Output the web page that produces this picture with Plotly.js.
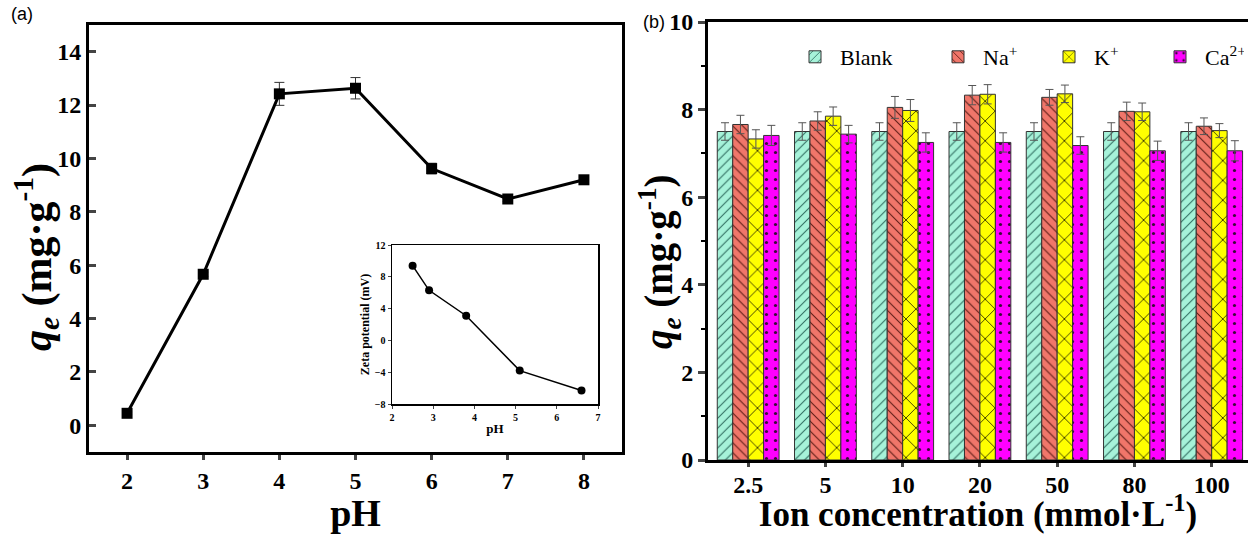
<!DOCTYPE html>
<html>
<head>
<meta charset="utf-8">
<script src="https://cdn.plot.ly/plotly-3.0.1.min.js"></script>
<style>html,body{margin:0;padding:0;background:#fff;}#chart{width:1248px;height:534px;}</style>
</head>
<body>
<div id="chart"></div>
<script>
// ---- Panel (a): qe vs pH ----
const phValues = [2, 3, 4, 5, 6, 7, 8];
const qeValues = [0.45, 5.66, 12.42, 12.63, 9.62, 8.48, 9.2];
const qeErr = [0.05, 0.08, 0.43, 0.4, 0.2, 0.1, 0.1];

// ---- Inset: zeta potential ----
const zetaPh = [2.5, 2.9, 3.8, 5.1, 6.6];
const zetaMv = [9.4, 6.3, 3.1, -3.8, -6.3];

// ---- Panel (b): ion concentration ----
const concLabels = ['2.5', '5', '10', '20', '50', '80', '100'];
const seriesNames = ['Blank', 'Na<sup>+</sup>', 'K<sup>+</sup>', 'Ca<sup>2+</sup>'];
const blankQe = [7.5, 7.5, 7.5, 7.5, 7.5, 7.5, 7.5];
const blankErr = [0.2, 0.2, 0.2, 0.2, 0.2, 0.2, 0.2];
const naQe = [7.66, 7.74, 8.05, 8.33, 8.28, 7.96, 7.62];
const naErr = [0.21, 0.21, 0.25, 0.22, 0.18, 0.21, 0.19];
const kQe = [7.33, 7.85, 7.98, 8.35, 8.36, 7.95, 7.52];
const kErr = [0.21, 0.21, 0.25, 0.22, 0.2, 0.2, 0.16];
const caQe = [7.41, 7.44, 7.25, 7.25, 7.18, 7.06, 7.06];
const caErr = [0.23, 0.2, 0.22, 0.22, 0.2, 0.22, 0.23];

const serif = 'Liberation Serif, Times New Roman, serif';
const W = 1248, H = 534;
const fx = p => p / W;
const fy = p => 1 - p / H;

const styles = [
  {bg: '#a6f2d9', fg: '#2e6b5e', shape: '/', size: 7, sol: 0.15, lw: 88},
  {bg: '#f0766a', fg: '#5a1a14', shape: '\\', size: 7, sol: 0.15, lw: 56},
  {bg: '#ffff00', fg: '#000000', shape: 'x', size: 14, sol: 0.1, lw: 56},
  {bg: '#ff00ff', fg: '#3a0a3a', shape: '.', size: 9, sol: 0.1, lw: 34}
];
const vals = [blankQe, naQe, kQe, caQe];
const errs = [blankErr, naErr, kErr, caErr];

const traces = [];
traces.push({
  x: phValues, y: qeValues, type: 'scatter', mode: 'lines+markers',
  xaxis: 'x', yaxis: 'y', showlegend: false,
  line: {color: '#000', width: 3},
  marker: {symbol: 'square', size: 11, color: '#000'},
  error_y: {type: 'data', array: qeErr, color: '#333', thickness: 1, width: 5}
});
traces.push({
  x: zetaPh, y: zetaMv, type: 'scatter', mode: 'lines+markers',
  xaxis: 'x3', yaxis: 'y3', showlegend: false,
  line: {color: '#000', width: 1.5},
  marker: {symbol: 'circle', size: 8, color: '#000'}
});
for (let i = 0; i < 4; i++) {
  const s = styles[i];
  traces.push({
    x: concLabels, y: vals[i], type: 'bar', name: seriesNames[i],
    xaxis: 'x2', yaxis: 'y2', legendwidth: s.lw,
    marker: {color: s.bg, line: {color: '#333', width: 1},
      pattern: {shape: s.shape, fgcolor: s.fg, bgcolor: s.bg, size: s.size, solidity: s.sol}},
    error_y: {type: 'data', array: errs[i], color: '#555', thickness: 1, width: 4}
  });
}

const tickFontBig = {family: serif, size: 24, color: '#000', weight: 'bold'};
const titleFontA = {family: serif, size: 38, color: '#000', weight: 'bold'};
const titleFontB = {family: serif, size: 35, color: '#000', weight: 'bold'};
const qeTitle = '<i>q<sub>e</sub></i> (mg·g<sup>-1</sup>)';

const layout = {
  width: W, height: H,
  margin: {l: 0, r: 0, t: 0, b: 0, autoexpand: false},
  paper_bgcolor: '#fff', plot_bgcolor: '#fff',
  barmode: 'group', bargap: 0.2, bargroupgap: 0,
  showlegend: true,
  legend: {
    orientation: 'h', x: fx(790), y: fy(36), xanchor: 'left', yanchor: 'top',
    font: {family: serif, size: 22, color: '#000'},
    bgcolor: 'rgba(0,0,0,0)', itemwidth: 40, traceorder: 'normal'
  },
  xaxis: {
    domain: [fx(89), fx(622)], range: [1.5, 8.5], anchor: 'y',
    tickvals: phValues, ticks: 'outside', ticklen: 5, tickwidth: 3,
    showline: true, linewidth: 3, linecolor: '#000', mirror: true,
    showgrid: false, zeroline: false, tickfont: tickFontBig,
    title: {text: 'pH', font: titleFontA, standoff: 0}
  },
  yaxis: {
    domain: [fy(452), fy(25)], range: [-1, 15], anchor: 'x',
    dtick: 2, tick0: 0, ticks: 'inside', ticklen: 7, tickwidth: 3,
    showline: true, linewidth: 3, linecolor: '#000', mirror: true,
    showgrid: false, zeroline: false, tickfont: tickFontBig
  },
  xaxis3: {
    domain: [fx(392), fx(598)], range: [2, 7], anchor: 'y3',
    dtick: 1, ticks: 'outside', ticklen: 3, tickwidth: 1,
    showline: true, linewidth: 1.5, linecolor: '#000', mirror: true,
    showgrid: false, zeroline: false,
    tickfont: {family: serif, size: 10, color: '#000', weight: 'bold'},
    title: {text: 'pH', font: {family: serif, size: 13, color: '#000', weight: 'bold'}, standoff: 2}
  },
  yaxis3: {
    domain: [fy(404), fy(245)], range: [-8, 12], anchor: 'x3',
    dtick: 4, ticks: 'outside', ticklen: 3, tickwidth: 1,
    showline: true, linewidth: 1.5, linecolor: '#000', mirror: true,
    showgrid: false, zeroline: false,
    tickfont: {family: serif, size: 10, color: '#000', weight: 'bold'},
    title: {text: 'Zeta potential (mV)', font: {family: serif, size: 12, color: '#000', weight: 'bold'}, standoff: 2}
  },
  xaxis2: {
    domain: [fx(708), 1], range: [-0.52, 6.47], anchor: 'y2', type: 'category',
    ticks: 'outside', ticklen: 4, tickwidth: 3, ticklabelstandoff: -3,
    showline: true, linewidth: 3, linecolor: '#000', mirror: true,
    showgrid: false, zeroline: false, tickfont: tickFontBig,
    title: {text: 'Ion concentration (mmol·L<sup>-1</sup>)', font: titleFontB, standoff: 3}
  },
  xaxis4: {
    overlaying: 'x2', domain: [fx(708), 1], range: [-0.52, 6.47], anchor: 'y2',
    tickvals: [-0.5, 0.5, 1.5, 2.5, 3.5, 4.5, 5.5, 6.5],
    showticklabels: false,
    ticks: 'outside', ticklen: 4, tickwidth: 2, tickcolor: '#000',
    showline: false, showgrid: false, zeroline: false
  },
  yaxis2: {
    domain: [fy(460), fy(22)], range: [0, 10], anchor: 'x2',
    dtick: 2, ticks: 'outside', ticklen: 7, tickwidth: 3,
    minor: {dtick: 1, ticks: 'outside', ticklen: 4, tickwidth: 2, tickcolor: '#000'},
    showline: true, linewidth: 3, linecolor: '#000', mirror: false,
    showgrid: false, zeroline: false, tickfont: tickFontBig
  },
  annotations: [
    {text: '(a)', x: fx(9), y: fy(14), xref: 'paper', yref: 'paper', xanchor: 'left', yanchor: 'middle',
     showarrow: false, font: {family: 'Liberation Sans, Arial, sans-serif', size: 18, color: '#000'}},
    {text: '(b)', x: fx(641), y: fy(22), xref: 'paper', yref: 'paper', xanchor: 'left', yanchor: 'middle',
     showarrow: false, font: {family: 'Liberation Sans, Arial, sans-serif', size: 18, color: '#000'}},
    {text: qeTitle, x: fx(36), y: fy(257), xref: 'paper', yref: 'paper', xanchor: 'center', yanchor: 'middle',
     textangle: -90, showarrow: false, font: {family: serif, size: 42, color: '#000', weight: 'bold'}},
    {text: qeTitle, x: fx(659), y: fy(262), xref: 'paper', yref: 'paper', xanchor: 'center', yanchor: 'middle',
     textangle: -90, showarrow: false, font: {family: serif, size: 39, color: '#000', weight: 'bold'}}
  ]
};

Plotly.newPlot('chart', traces, layout, {displayModeBar: false, staticPlot: true});
</script>
</body>
</html>
